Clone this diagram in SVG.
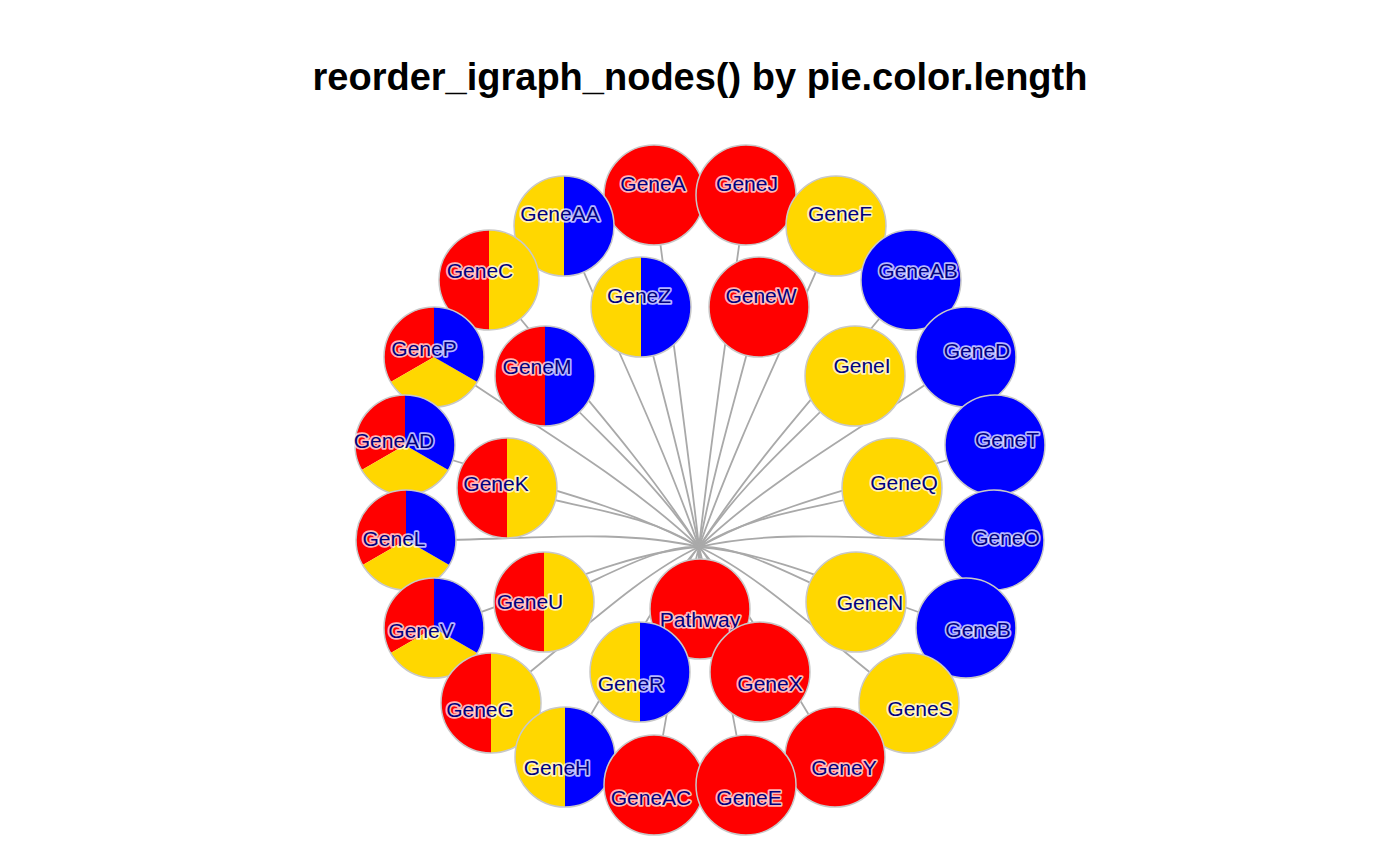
<svg xmlns="http://www.w3.org/2000/svg" xmlns:xlink="http://www.w3.org/1999/xlink" width="1400" height="866" viewBox="0 0 1400 866">
<style>
.title{font-family:"Liberation Sans",Arial,Helvetica,sans-serif;font-weight:bold;font-size:38px;fill:#000;text-anchor:middle}
.lbl{font-family:"Liberation Sans",Arial,Helvetica,sans-serif;font-size:21px;fill:#000080;text-anchor:middle;stroke:#ffffff;stroke-opacity:0.72;stroke-width:3.4;stroke-linejoin:round;paint-order:stroke fill}
.edges path{fill:none;stroke:#A9A9A9;stroke-width:1.8}
.bd{fill:none;stroke:#C8C8C8;stroke-width:1.5}
</style>
<defs>
<g id="red"><circle r="50" fill="#FF0000"/><circle r="50" class="bd"/></g>
<g id="yel"><circle r="50" fill="#FFD700"/><circle r="50" class="bd"/></g>
<g id="blu"><circle r="50" fill="#0000FF"/><circle r="50" class="bd"/></g>
<g id="ry"><path d="M0,-50A50,50 0 0 0 0,50Z" fill="#FF0000"/><path d="M0,-50A50,50 0 0 1 0,50Z" fill="#FFD700"/><circle r="50" class="bd"/></g>
<g id="yb"><path d="M0,-50A50,50 0 0 0 0,50Z" fill="#FFD700"/><path d="M0,-50A50,50 0 0 1 0,50Z" fill="#0000FF"/><circle r="50" class="bd"/></g>
<g id="rb"><path d="M0,-50A50,50 0 0 0 0,50Z" fill="#FF0000"/><path d="M0,-50A50,50 0 0 1 0,50Z" fill="#0000FF"/><circle r="50" class="bd"/></g>
<g id="ryb"><path d="M0,0L0,-50A50,50 0 0 0 -43.3,25Z" fill="#FF0000"/><path d="M0,0L-43.3,25A50,50 0 0 0 43.3,25Z" fill="#FFD700"/><path d="M0,0L43.3,25A50,50 0 0 0 0,-50Z" fill="#0000FF"/><circle r="50" class="bd"/></g>
</defs>
<rect width="1400" height="866" fill="#ffffff"/>
<text class="title" x="700" y="90">reorder_igraph_nodes() by pie.color.length</text>
<g class="edges" id="edges">
<path d="M654,195C669,312.3 685.2,422.8 699,547L700,609"/>
<path d="M746,195C730.3,312.3 712.8,422.8 699,547L700,609"/>
<path d="M836,226C790.3,333 739.8,432.1 699,547L700,609"/>
<path d="M911,280C840.3,369 762.3,448.3 699,547L700,609"/>
<path d="M966,357C877,420.3 778.8,471.4 699,547L700,609"/>
<path d="M995,445C896.3,479 787.5,497.8 699,547L700,609"/>
<path d="M994,540C895.7,542.3 787.2,526.3 699,547L700,609"/>
<path d="M966,628C877,601 778.8,552.7 699,547L700,609"/>
<path d="M909,703C839,651 761.7,575.2 699,547L700,609"/>
<path d="M835,757C789.7,687 739.5,591.4 699,547L700,609"/>
<path d="M746,785C730.3,705.7 712.8,599.8 699,547L700,609"/>
<path d="M654,785C669,705.7 685.2,599.8 699,547L700,609"/>
<path d="M565,757C609.7,687 658.5,591.4 699,547L700,609"/>
<path d="M491,703C560.3,651 636.3,575.2 699,547L700,609"/>
<path d="M434,628C522.3,601 619.2,552.7 699,547L700,609"/>
<path d="M406,540C503.7,542.3 610.8,526.3 699,547L700,609"/>
<path d="M405,445C503,479 610.5,497.8 699,547L700,609"/>
<path d="M434,357C522.3,420.3 619.2,471.4 699,547L700,609"/>
<path d="M489,280C559,369 635.7,448.3 699,547L700,609"/>
<path d="M564,226C609,333 658.2,432.1 699,547L700,609"/>
<path d="M641,307C660.3,387 681.3,456.4 699,547L700,609"/>
<path d="M759,307C739,387 716.7,456.4 699,547L700,609"/>
<path d="M855,376C803,433 745.5,477.1 699,547L700,609"/>
<path d="M892,488C827.7,507.7 756.6,510.7 699,547L700,609"/>
<path d="M856,602C803.7,583.7 745.8,544.9 699,547L700,609"/>
<path d="M760,672C739.7,630.3 717,565.9 699,547L700,609"/>
<path d="M640,672C659.7,630.3 681,565.9 699,547L700,609"/>
<path d="M544,602C595.7,583.7 652.2,544.9 699,547L700,609"/>
<path d="M507,488C571,507.7 641.1,510.7 699,547L700,609"/>
<path d="M545,376C596.3,433 652.5,477.1 699,547L700,609"/>
</g>
<g id="nodes">
<g id="n-GeneA" transform="translate(654,195)"><use xlink:href="#red" href="#red"/><text class="lbl" x="-1" y="-4.5">GeneA</text></g>
<g id="n-GeneJ" transform="translate(746,195)"><use xlink:href="#red" href="#red"/><text class="lbl" x="1" y="-4.5">GeneJ</text></g>
<g id="n-GeneAA" transform="translate(564,226)"><use xlink:href="#yb" href="#yb"/><text class="lbl" x="-4" y="-5.5">GeneAA</text></g>
<g id="n-GeneF" transform="translate(836,226)"><use xlink:href="#yel" href="#yel"/><text class="lbl" x="4" y="-5.5">GeneF</text></g>
<g id="n-GeneC" transform="translate(489,280)"><use xlink:href="#ry" href="#ry"/><text class="lbl" x="-9" y="-2.5">GeneC</text></g>
<g id="n-GeneAB" transform="translate(911,280)"><use xlink:href="#blu" href="#blu"/><text class="lbl" x="7" y="-2.5">GeneAB</text></g>
<g id="n-GeneZ" transform="translate(641,307)"><use xlink:href="#yb" href="#yb"/><text class="lbl" x="-2" y="-4.5">GeneZ</text></g>
<g id="n-GeneW" transform="translate(759,307)"><use xlink:href="#red" href="#red"/><text class="lbl" x="2" y="-4.5">GeneW</text></g>
<g id="n-GeneP" transform="translate(434,357)"><use xlink:href="#ryb" href="#ryb"/><text class="lbl" x="-10" y="-1.5">GeneP</text></g>
<g id="n-GeneD" transform="translate(966,357)"><use xlink:href="#blu" href="#blu"/><text class="lbl" x="11" y="0.5">GeneD</text></g>
<g id="n-GeneM" transform="translate(545,376)"><use xlink:href="#rb" href="#rb"/><text class="lbl" x="-8" y="-2.5">GeneM</text></g>
<g id="n-GeneI" transform="translate(855,376)"><use xlink:href="#yel" href="#yel"/><text class="lbl" x="7" y="-3.5">GeneI</text></g>
<g id="n-GeneAD" transform="translate(405,445)"><use xlink:href="#ryb" href="#ryb"/><text class="lbl" x="-11" y="2.5">GeneAD</text></g>
<g id="n-GeneT" transform="translate(995,445)"><use xlink:href="#blu" href="#blu"/><text class="lbl" x="12" y="1.5">GeneT</text></g>
<g id="n-GeneK" transform="translate(507,488)"><use xlink:href="#ry" href="#ry"/><text class="lbl" x="-11" y="2.5">GeneK</text></g>
<g id="n-GeneQ" transform="translate(892,488)"><use xlink:href="#yel" href="#yel"/><text class="lbl" x="12" y="1.5">GeneQ</text></g>
<g id="n-GeneL" transform="translate(406,540)"><use xlink:href="#ryb" href="#ryb"/><text class="lbl" x="-12" y="5.5">GeneL</text></g>
<g id="n-GeneO" transform="translate(994,540)"><use xlink:href="#blu" href="#blu"/><text class="lbl" x="12" y="4.5">GeneO</text></g>
<g id="n-GeneU" transform="translate(544,602)"><use xlink:href="#ry" href="#ry"/><text class="lbl" x="-14" y="6.5">GeneU</text></g>
<g id="n-GeneN" transform="translate(856,602)"><use xlink:href="#yel" href="#yel"/><text class="lbl" x="14" y="7.5">GeneN</text></g>
<g id="n-Pathway" transform="translate(700,609)"><use xlink:href="#red" href="#red"/><text class="lbl" x="0" y="17.5">Pathway</text></g>
<g id="n-GeneV" transform="translate(434,628)"><use xlink:href="#ryb" href="#ryb"/><text class="lbl" x="-13" y="9.5">GeneV</text></g>
<g id="n-GeneB" transform="translate(966,628)"><use xlink:href="#blu" href="#blu"/><text class="lbl" x="12" y="8.5">GeneB</text></g>
<g id="n-GeneR" transform="translate(640,672)"><use xlink:href="#yb" href="#yb"/><text class="lbl" x="-9" y="18.5">GeneR</text></g>
<g id="n-GeneX" transform="translate(760,672)"><use xlink:href="#red" href="#red"/><text class="lbl" x="10" y="18.5">GeneX</text></g>
<g id="n-GeneG" transform="translate(491,703)"><use xlink:href="#ry" href="#ry"/><text class="lbl" x="-11" y="13.5">GeneG</text></g>
<g id="n-GeneS" transform="translate(909,703)"><use xlink:href="#yel" href="#yel"/><text class="lbl" x="11" y="12.5">GeneS</text></g>
<g id="n-GeneH" transform="translate(565,757)"><use xlink:href="#yb" href="#yb"/><text class="lbl" x="-8" y="17.5">GeneH</text></g>
<g id="n-GeneY" transform="translate(835,757)"><use xlink:href="#red" href="#red"/><text class="lbl" x="9" y="17.5">GeneY</text></g>
<g id="n-GeneAC" transform="translate(654,785)"><use xlink:href="#red" href="#red"/><text class="lbl" x="-3" y="19.5">GeneAC</text></g>
<g id="n-GeneE" transform="translate(746,785)"><use xlink:href="#red" href="#red"/><text class="lbl" x="3" y="19.5">GeneE</text></g>
</g>
</svg>
